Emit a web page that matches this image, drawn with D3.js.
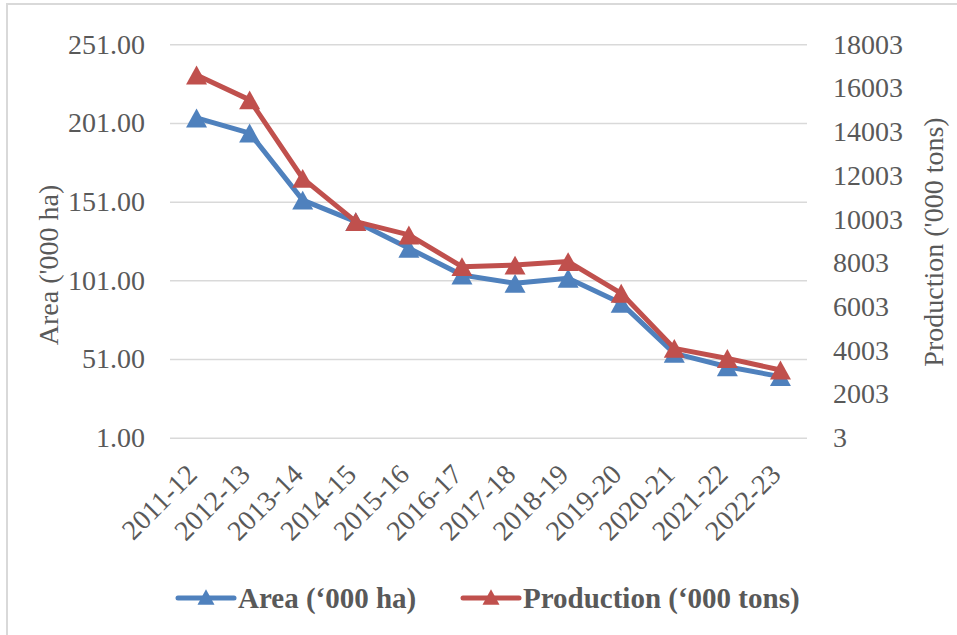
<!DOCTYPE html>
<html>
<head>
<meta charset="utf-8">
<script src="https://cdn.jsdelivr.net/npm/d3@7"></script>
<style>
  body { margin: 0; background: #fff; }
  svg { display: block; font-family: "Liberation Serif", "Times New Roman", serif; }
  .axis text { fill: #595959; font-size: 28px; font-family: "Liberation Serif", "Times New Roman", serif; }
  .axis .domain { display: none; }
  .grid line { stroke: #d9d9d9; stroke-width: 1.5; }
</style>
</head>
<body>
<svg id="chart"></svg>
<script>
//Chart Data
const years = ["2011-12", "2012-13", "2013-14", "2014-15", "2015-16", "2016-17",
               "2017-18", "2018-19", "2019-20", "2020-21", "2021-22", "2022-23"];
const area = [204.2, 194.6, 152.0, 138.3, 121.4, 104.4, 99.1, 102.3, 86.4, 54.6, 46.1, 39.8];
const production = [16600, 15460, 11870, 9890, 9280, 7830, 7900, 8060, 6610, 4090, 3630, 3100];
const leftTicks = [1, 51, 101, 151, 201, 251];
const rightTicks = [3, 2003, 4003, 6003, 8003, 10003, 12003, 14003, 16003, 18003];

const w = 957;
const h = 635;
const plotLeft = 170;
const plotRight = 807;
const plotTop = 44.3;
const plotBottom = 437.7;

const blue = "#4f81bd";
const red = "#c0504d";
const textColor = "#595959";

const svg = d3.select("#chart")
              .attr("width", w)
              .attr("height", h);

//Outer border
svg.append("rect")
   .attr("x", 7)
   .attr("y", 4)
   .attr("width", w + 10)
   .attr("height", h + 10)
   .attr("fill", "#fff")
   .attr("stroke", "#d9d9d9")
   .attr("stroke-width", 2);

//Scales
const xScale = d3.scaleBand()
                 .domain(years)
                 .range([plotLeft, plotRight]);

const yLeft = d3.scaleLinear()
                .domain([1, 251])
                .range([plotBottom, plotTop]);

const yRight = d3.scaleLinear()
                 .domain([3, 18003])
                 .range([plotBottom, plotTop]);

const cx = (d) => xScale(d) + xScale.bandwidth() / 2;

//Left axis with gridlines
svg.append("g")
   .attr("class", "axis grid")
   .attr("transform", "translate(" + plotLeft + ", 0)")
   .call(d3.axisLeft(yLeft)
           .tickValues(leftTicks)
           .tickSizeInner(-(plotRight - plotLeft))
           .tickSizeOuter(0)
           .tickPadding(25)
           .tickFormat(d3.format(".2f")));

//Right axis, labels only
svg.append("g")
   .attr("class", "axis")
   .attr("transform", "translate(" + plotRight + ", 0)")
   .call(d3.axisRight(yRight)
           .tickValues(rightTicks)
           .tickSize(0)
           .tickPadding(26)
           .tickFormat(d3.format("d")));

//Category labels, rotated
svg.append("g")
   .attr("class", "axis")
   .selectAll("text")
   .data(years)
   .enter()
   .append("text")
   .attr("transform", (d) => "translate(" + (cx(d) + 2) + "," + 476 + ") rotate(-45)")
   .attr("text-anchor", "end")
   .text((d) => d);

//Axis titles
svg.append("text")
   .attr("transform", "translate(58, 265) rotate(-90)")
   .attr("text-anchor", "middle")
   .attr("fill", textColor)
   .style("font-size", "28px")
   .text("Area ('000 ha)");

svg.append("text")
   .attr("transform", "translate(943, 242) rotate(-90)")
   .attr("text-anchor", "middle")
   .attr("fill", textColor)
   .style("font-size", "28px")
   .text("Production ('000 tons)");

//Lines and markers
const triangle = (s) => "M0," + (-s * 0.9) / 2 + "L" + s / 2 + "," + (s * 0.9) / 2 + "L" + (-s / 2) + "," + (s * 0.9) / 2 + "Z";

const series = [
  { name: "Area (\u2018000 ha)", values: area, scale: yLeft, color: blue },
  { name: "Production (\u2018000 tons)", values: production, scale: yRight, color: red }
];

series.forEach((s) => {
  const line = d3.line()
                 .x((d, i) => cx(years[i]))
                 .y((d) => s.scale(d));

  svg.append("path")
     .datum(s.values)
     .attr("d", line)
     .attr("fill", "none")
     .attr("stroke", s.color)
     .attr("stroke-width", 5)
     .attr("stroke-linejoin", "round")
     .attr("stroke-linecap", "round");

  svg.append("g")
     .selectAll("path")
     .data(s.values)
     .enter()
     .append("path")
     .attr("transform", (d, i) => "translate(" + cx(years[i]) + "," + s.scale(d) + ")")
     .attr("d", triangle(21))
     .attr("fill", s.color);
});

//Legend
const legendX = [178, 463];
const legend = svg.append("g");
series.forEach((s, i) => {
  const x0 = legendX[i];
  legend.append("line")
        .attr("x1", x0)
        .attr("x2", x0 + 56)
        .attr("y1", 598)
        .attr("y2", 598)
        .attr("stroke", s.color)
        .attr("stroke-width", 5)
        .attr("stroke-linecap", "round");
  legend.append("path")
        .attr("transform", "translate(" + (x0 + 28) + ", 597)")
        .attr("d", triangle(17))
        .attr("fill", s.color);
  legend.append("text")
        .attr("x", x0 + 60)
        .attr("y", 607.5)
        .attr("fill", textColor)
        .style("font-size", "29px")
        .style("font-weight", "bold")
        .text(s.name);
});
</script>
</body>
</html>
